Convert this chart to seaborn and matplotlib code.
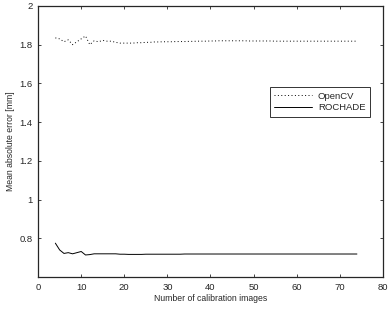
import numpy as np
import matplotlib
matplotlib.use("Agg")
import matplotlib.pyplot as plt
import seaborn as sns
import pandas as pd

# number of calibration images (x axis)
n_images = list(range(4, 75))

# mean absolute error [mm]
opencv = [1.835, 1.830, 1.815, 1.825, 1.800, 1.815, 1.830, 1.845, 1.800, 1.820,
          1.815, 1.822, 1.818, 1.818, 1.812, 1.808, 1.808, 1.808, 1.808, 1.810,
          1.810, 1.812, 1.812, 1.814, 1.814, 1.815, 1.815, 1.815, 1.816, 1.816,
          1.816, 1.817, 1.817, 1.818, 1.818, 1.818, 1.819, 1.819, 1.820, 1.820,
          1.820, 1.820, 1.820, 1.820, 1.820, 1.819, 1.819, 1.819, 1.819, 1.819,
          1.819, 1.818, 1.818, 1.818, 1.818, 1.818, 1.818, 1.818, 1.818, 1.818,
          1.818, 1.818, 1.818, 1.818, 1.818, 1.818, 1.818, 1.818, 1.818, 1.818,
          1.818]
rochade = [0.775, 0.740, 0.722, 0.726, 0.720, 0.726, 0.732, 0.714, 0.716, 0.720,
           0.720, 0.720, 0.720, 0.720, 0.720, 0.718, 0.718, 0.717, 0.717, 0.717,
           0.717, 0.718, 0.718, 0.718, 0.718, 0.718, 0.718, 0.718, 0.718, 0.718,
           0.719, 0.719, 0.719, 0.719, 0.719, 0.719, 0.719, 0.719, 0.719, 0.719,
           0.719, 0.719, 0.719, 0.719, 0.719, 0.719, 0.719, 0.719, 0.719, 0.719,
           0.719, 0.719, 0.719, 0.719, 0.719, 0.719, 0.719, 0.719, 0.719, 0.719,
           0.719, 0.719, 0.719, 0.719, 0.719, 0.719, 0.719, 0.719, 0.719, 0.719,
           0.719]
methods = ["OpenCV", "ROCHADE"]

df = pd.DataFrame({
    "n": n_images * 2,
    "err": opencv + rochade,
    "method": [methods[0]] * len(n_images) + [methods[1]] * len(n_images),
})

sns.set_style("ticks")
plt.rcParams["font.family"] = ["Liberation Sans", "DejaVu Sans"]
plt.rcParams["xtick.direction"] = "in"
plt.rcParams["ytick.direction"] = "in"

fig = plt.figure(figsize=(3.89, 3.12), dpi=100)
ax = fig.add_axes([0.098, 0.112, 0.886, 0.869])

sns.lineplot(data=df, x="n", y="err", hue="method", style="method",
             palette=["black", "black"], dashes={"OpenCV": (1, 2.5), "ROCHADE": ""},
             linewidth=0.7, ax=ax)

ax.set_xlim(0, 80)
ax.set_ylim(0.6, 2.0)
ax.set_xticks(range(0, 81, 10))
ax.set_yticks([0.8, 1.0, 1.2, 1.4, 1.6, 1.8, 2.0])
ax.set_yticklabels(["0.8", "1", "1.2", "1.4", "1.6", "1.8", "2"])
ax.tick_params(labelsize=6.8, top=True, right=True, length=2.5, width=0.6, pad=4)
for s in ax.spines.values():
    s.set_linewidth(0.9)
ax.set_xlabel("Number of calibration images", fontsize=6.2, labelpad=1.5)
ax.set_ylabel("Mean absolute error [mm]", fontsize=6.2, labelpad=3)

leg = ax.legend(loc="upper right", bbox_to_anchor=(0.962, 0.70), fontsize=6.8,
                frameon=True, fancybox=False, edgecolor="black", handlelength=4,
                borderpad=0.45, labelspacing=0.3, handletextpad=0.6, borderaxespad=0)
leg.get_frame().set_linewidth(0.7)

fig.savefig("out.png", dpi=100)
